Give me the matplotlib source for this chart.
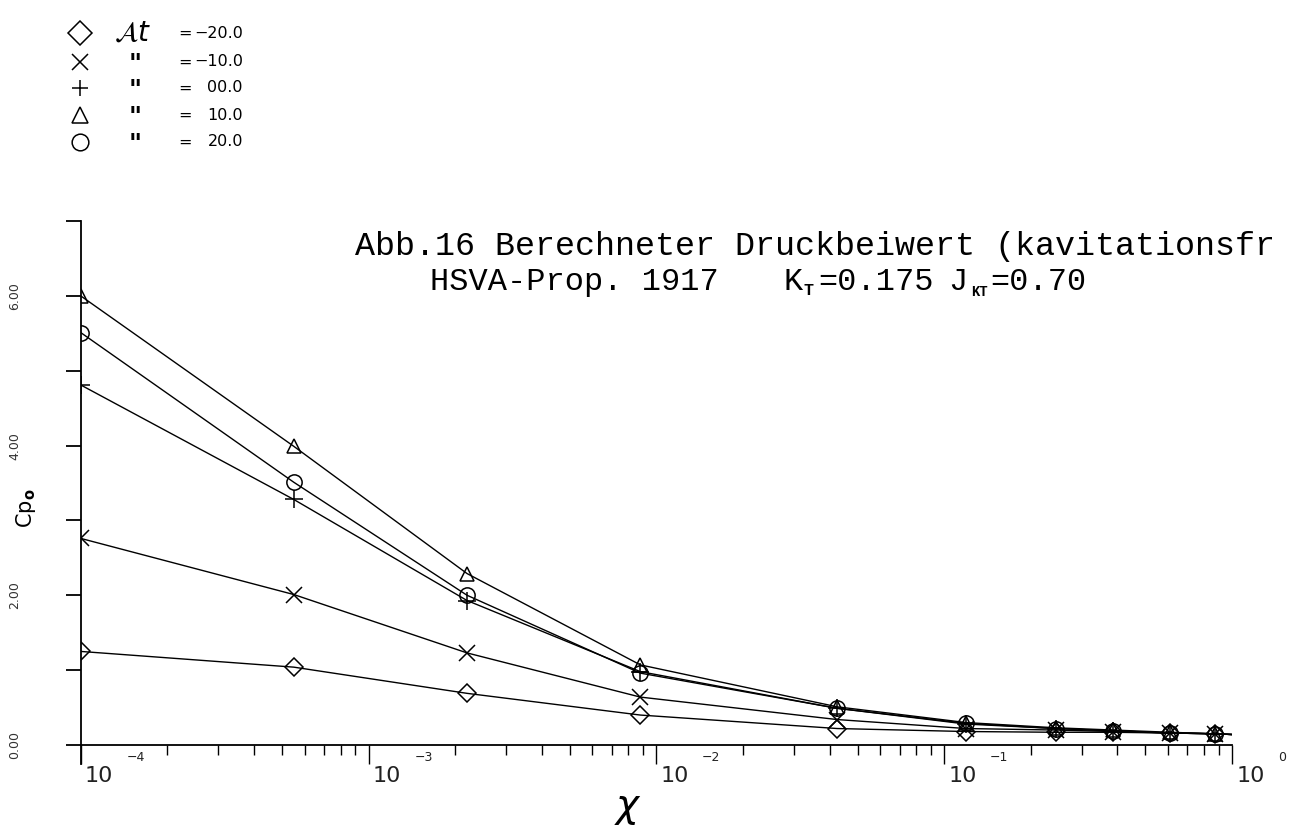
import matplotlib
matplotlib.use('Agg')
from matplotlib import pyplot as plt

# x positions of the calculated points (log axis)
x_pos = [1e-4, 5.5e-4, 2.2e-3, 8.8e-3, 0.0425, 0.119, 0.244, 0.386, 0.61, 0.87, 1.0]

# Cp0 values for each blade position
cp_m20 = [1.25, 1.04, 0.69, 0.40, 0.22, 0.18, 0.17, 0.17, 0.16, 0.15, 0.14]
cp_m10 = [2.76, 2.01, 1.23, 0.64, 0.34, 0.22, 0.20, 0.18, 0.16, 0.15, 0.14]
cp_00 = [4.81, 3.28, 1.93, 0.98, 0.49, 0.28, 0.22, 0.19, 0.16, 0.15, 0.14]
cp_p10 = [6.00, 3.99, 2.29, 1.07, 0.51, 0.30, 0.23, 0.20, 0.17, 0.15, 0.14]
cp_p20 = [5.51, 3.51, 2.00, 0.96, 0.49, 0.29, 0.22, 0.19, 0.16, 0.15, 0.14]

series = [cp_m20, cp_m10, cp_00, cp_p10, cp_p20]
markers = ['D', 'x', '+', '^', 'o']
marker_sizes = [9, 12, 13, 10, 11]
legend_values = ['-20.0', '-10.0', '00.0', '10.0', '20.0']
legend_names = [r'$\mathcal{A}t$', '"', '"', '"', '"']

y_ticks = [0, 1, 2, 3, 4, 5, 6, 7]
y_tick_labels = ['0.00', '', '2.00', '', '4.00', '', '6.00', '']
decades = [1e-4, 1e-3, 1e-2, 1e-1, 1e0]
decade_exps = ['\u22124', '\u22123', '\u22122', '\u22121', '0']

W, H = 1297, 835


def fx(px):
    return px / W


def fy(py):
    return 1 - py / H


fig = plt.figure(figsize=(W / 100, H / 100), dpi=100)
ax = fig.add_axes([fx(80.7), fy(745), fx(1232) - fx(80.7), fy(221) - fy(745)])

for values, m, ms in zip(series, markers, marker_sizes):
    ax.plot(x_pos, values, color='k', lw=1.0, marker=m, ms=ms, mfc='none',
            mec='k', mew=1.1, markevery=list(range(len(x_pos) - 1)))

ax.set_xscale('log')
ax.set_xlim(1e-4, 1)
ax.set_ylim(0, 7)

ax.spines['top'].set_visible(False)
ax.spines['right'].set_visible(False)
ax.spines['left'].set_bounds(-0.25, 7)
for s in ['left', 'bottom']:
    ax.spines[s].set_linewidth(1.3)

# y axis: ticks outward, labels rotated and far from axis
ax.set_yticks(y_ticks)
ax.set_yticklabels(y_tick_labels, rotation=90, va='center', fontsize=9, color='#333333')
ax.tick_params(axis='y', direction='out', length=11, width=1.3, pad=32)

# x axis: decade ticks with hand-placed "10" and exponent
ax.set_xticks(decades)
ax.set_xticklabels([''] * len(decades))
ax.tick_params(axis='x', which='major', direction='out', length=14, width=1.0)
ax.tick_params(axis='x', which='minor', direction='out', length=7, width=1.0)
for v, e in zip(decades, decade_exps):
    ax.annotate('10', xy=(v, 0), xycoords=('data', 'axes fraction'), xytext=(3, -22),
                textcoords='offset points', ha='left', va='center', fontsize=16, color='#222222')
    ax.annotate(e, xy=(v, 0), xycoords=('data', 'axes fraction'), xytext=(33, -9),
                textcoords='offset points', ha='left', va='center', fontsize=9, color='#222222')

# axis labels
fig.text(fx(26), fy(508), 'Cp$_{\\mathbf{o}}$', rotation=90, fontsize=15, ha='center', va='center')
fig.text(fx(628), fy(808), r'$\chi$', fontsize=28, ha='center', va='center')

# title in typewriter style (cut at the right edge in the original)
mono = 'Liberation Mono'
fig.text(fx(355), fy(246), 'Abb.16 Berechneter Druckbeiwert (kavitationsfr',
         family=mono, fontsize=24, ha='left', va='center')
fig.text(fx(430), fy(282), 'HSVA-Prop. 1917', family=mono, fontsize=23, ha='left', va='center')
fig.text(fx(783), fy(282), 'K', family=mono, fontsize=23, ha='left', va='center')
fig.text(fx(803), fy(290), 'T', family=mono, fontsize=12, weight='bold', ha='left', va='center')
fig.text(fx(818), fy(282), '=0.175', family=mono, fontsize=23, ha='left', va='center')
fig.text(fx(948), fy(282), 'J', family=mono, fontsize=23, ha='left', va='center')
fig.text(fx(971), fy(292), 'KT', family=mono, fontsize=10, weight='bold', ha='left', va='center')
fig.text(fx(990), fy(282), '=0.70', family=mono, fontsize=23, ha='left', va='center')

# hand-made legend in the top left corner
leg = fig.add_axes([0, 0, 1, 1])
leg.set_xlim(0, W)
leg.set_ylim(H, 0)
leg.axis('off')
rows = [33, 62, 88, 115, 142]
for row, m, name, val in zip(rows, markers, legend_names, legend_values):
    leg.plot([80], [row], marker=m, ms=12, mfc='none', mec='k', mew=1.1, ls='none')
    if name.startswith('$'):
        leg.text(133, row, name, fontsize=20, ha='center', va='center')
    else:
        leg.text(135, row + 2, name, fontsize=18, style='italic', weight='bold',
                 ha='center', va='center')
    leg.text(178, row, '=', fontsize=11.5, ha='left', va='center')
    leg.text(243, row, val.replace('-', '\u2212'), fontsize=11.5, ha='right', va='center')

fig.savefig('out.png', dpi=100)
